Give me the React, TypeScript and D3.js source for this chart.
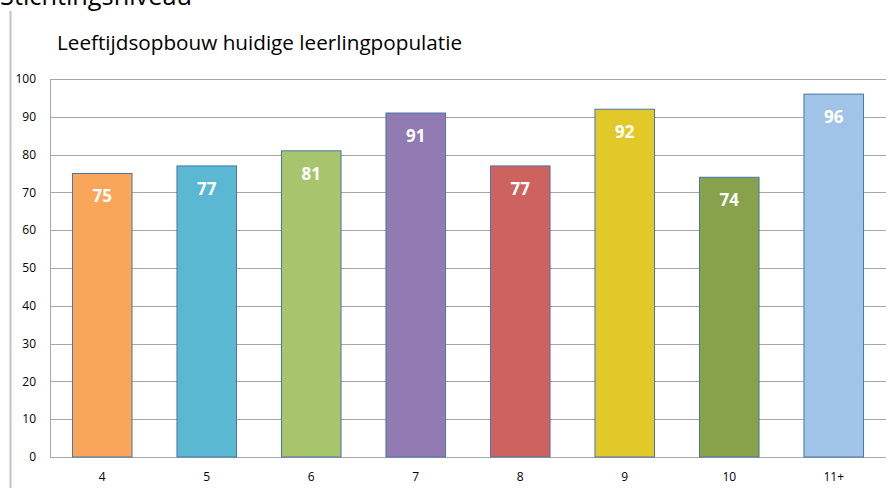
import React from "react";
import * as d3 from "d3";

const categories = ["4", "5", "6", "7", "8", "9", "10", "11+"];
const values = [75, 77, 81, 91, 77, 92, 74, 96];
const colors = ["#F9A65A", "#5BB8D3", "#A8C46C", "#927AB3", "#CD625E", "#E2C92A", "#88A24C", "#A0C3E8"];
const yTicks = [0, 10, 20, 30, 40, 50, 60, 70, 80, 90, 100];
const title = "Leeftijdsopbouw huidige leerlingpopulatie";
const heading = "Stichtingsniveau";

const W = 893, H = 488;
const left = 50, right = 886, top = 79, bottom = 457;

export default function App() {
  const x = d3.scaleBand().domain(categories).range([left, right]).paddingInner(0.43).paddingOuter(0.215);
  const y = d3.scaleLinear().domain([0, 100]).range([bottom, top]);
  const font = "Open Sans, Noto Sans, sans-serif";
  return (
    <svg width={W} height={H} style={{ position: "absolute", left: 0, top: 0, background: "#fff" }} fontFamily={font}>
      <rect x={0} y={0} width={W} height={H} fill="#fff" />
      <text x={0} y={5} fontSize={25} fill="#000" textLength={192} lengthAdjust="spacingAndGlyphs">{heading}</text>
      <line x1={10.5} x2={10.5} y1={11} y2={H} stroke="#c4c4c4" strokeWidth={2} />
      <text x={57} y={50} fontSize={20} fill="#000" textLength={405} lengthAdjust="spacingAndGlyphs">{title}</text>
      {yTicks.map((t) => (
        <g key={t}>
          <line x1={left} x2={right} y1={Math.round(y(t)) + 0.5} y2={Math.round(y(t)) + 0.5} stroke="#a6a6a6" strokeWidth={1} />
          <text x={36} y={y(t)} dy="0.35em" fontSize={12} textAnchor="end" fill="#000">{t}</text>
        </g>
      ))}
      <line x1={left + 0.5} x2={left + 0.5} y1={top} y2={bottom} stroke="#a6a6a6" strokeWidth={1} />
      {categories.map((c, i) => {
        const bx = x(c)!;
        const by = y(values[i]);
        return (
          <g key={c}>
            <rect x={bx} y={by} width={x.bandwidth()} height={bottom - by} fill={colors[i]} stroke="#4A74A8" strokeWidth={1} />
            <text x={bx + x.bandwidth() / 2} y={by + 23} dy="0.35em" fontSize={17} fontWeight="bold" textAnchor="middle" fill="#fff">{values[i]}</text>
            <text x={bx + x.bandwidth() / 2} y={477} dy="0.35em" fontSize={12} textAnchor="middle" fill="#000">{c}</text>
          </g>
        );
      })}
    </svg>
  );
}
